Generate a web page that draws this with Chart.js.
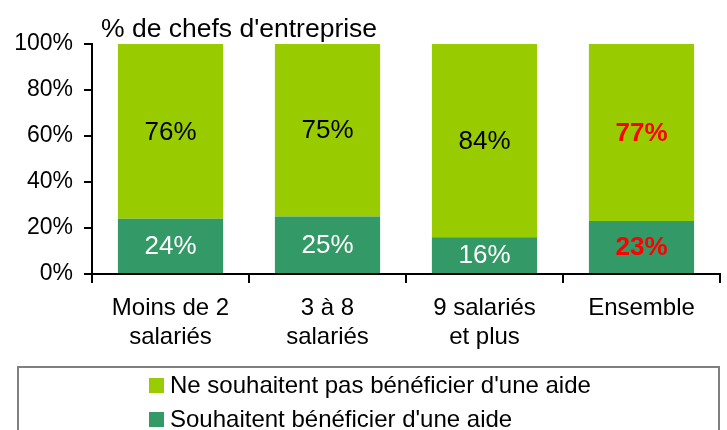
<!DOCTYPE html>
<html>
<head>
<meta charset="utf-8">
<script src="https://cdn.jsdelivr.net/npm/chart.js@4/dist/chart.umd.min.js"></script>
<style>
  html, body { margin: 0; padding: 0; background: #ffffff; }
  #wrap { width: 727px; height: 430px; }
</style>
</head>
<body>
<div id="wrap"><canvas id="c" width="727" height="430"></canvas></div>
<script>
// Categories (multi-line axis labels)
const categories = [['Moins de 2', 'salariés'], ['3 à 8', 'salariés'], ['9 salariés', 'et plus'], ['Ensemble']];
// Share of business owners who want support (%)
const souhaitent = [24, 25, 16, 23];
// Share of business owners who do not want support (%)
const neSouhaitentPas = [76, 75, 84, 77];
// Y axis ticks (%)
const yTicks = [0, 20, 40, 60, 80, 100];
const seriesNames = ["Souhaitent bénéficier d'une aide", "Ne souhaitent pas bénéficier d'une aide"];
const axisTitle = "% de chefs d'entreprise";

const FONT = "'Liberation Sans', Arial, Helvetica, sans-serif";
const DARK = '#339966';
const LIGHT = '#99CC00';
const totalIndex = categories.length - 1; // "Ensemble" column, labels in bold red

// Value labels centred inside each bar segment
const valueLabels = {
  id: 'valueLabels',
  afterDatasetsDraw(chart) {
    const ctx = chart.ctx;
    ctx.save();
    ctx.textAlign = 'center';
    ctx.textBaseline = 'middle';
    chart.data.datasets.forEach((ds, di) => {
      const meta = chart.getDatasetMeta(di);
      meta.data.forEach((bar, i) => {
        const isTotal = i === totalIndex;
        ctx.font = (isTotal ? 'bold ' : '') + '26px ' + FONT;
        ctx.fillStyle = isTotal ? '#FF0000' : (di === 0 ? '#FFFFFF' : '#000000');
        const cy = (bar.y + bar.base) / 2;
        ctx.fillText(ds.data[i] + '%', bar.x, cy + 1);
      });
    });
    ctx.restore();
  }
};

// Axis caption and the boxed legend at the bottom
const decorations = {
  id: 'decorations',
  afterDraw(chart) {
    const ctx = chart.ctx;
    ctx.save();
    ctx.fillStyle = '#000';
    ctx.font = '26.5px ' + FONT;
    ctx.textAlign = 'left';
    ctx.textBaseline = 'alphabetic';
    ctx.fillText(axisTitle, 101, 37);

    // legend frame
    ctx.strokeStyle = '#808080';
    ctx.lineWidth = 2;
    ctx.beginPath();
    ctx.moveTo(18, 440);
    ctx.lineTo(18, 367);
    ctx.lineTo(719, 367);
    ctx.lineTo(719, 440);
    ctx.stroke();

    // legend entries, top to bottom in reverse dataset order
    const items = chart.data.datasets.slice().reverse();
    ctx.font = '24px ' + FONT;
    ctx.textBaseline = 'middle';
    items.forEach((ds, k) => {
      const cy = 385.5 + k * 34;
      ctx.fillStyle = ds.backgroundColor;
      ctx.fillRect(149, cy - 7.5, 15, 15);
      ctx.fillStyle = '#000';
      ctx.fillText(ds.label, 170, cy + 1);
    });
    ctx.restore();
  }
};

new Chart(document.getElementById('c'), {
  type: 'bar',
  data: {
    labels: categories,
    datasets: [
      { label: seriesNames[0], data: souhaitent, backgroundColor: DARK, borderWidth: 0 },
      { label: seriesNames[1], data: neSouhaitentPas, backgroundColor: LIGHT, borderWidth: 0 }
    ]
  },
  options: {
    responsive: false,
    animation: false,
    devicePixelRatio: 1,
    layout: { padding: { top: 44, right: 7, left: 0, bottom: 0 } },
    categoryPercentage: 1,
    barPercentage: 0.67,
    plugins: {
      legend: { display: false },
      tooltip: { enabled: false },
      title: { display: false }
    },
    scales: {
      x: {
        stacked: true,
        offset: true,
        grid: { offset: true, drawOnChartArea: false, drawTicks: true, tickLength: 9, color: '#000', lineWidth: 2 },
        border: { color: '#000', width: 2 },
        ticks: { color: '#000', font: { family: FONT, size: 24 }, padding: 11, maxRotation: 0, autoSkip: false },
        afterFit(scale) { scale.height = 156; }
      },
      y: {
        stacked: true,
        min: yTicks[0],
        max: yTicks[yTicks.length - 1],
        afterBuildTicks(scale) { scale.ticks = yTicks.map(v => ({ value: v })); },
        grid: { drawOnChartArea: false, drawTicks: true, tickLength: 8, color: '#000', lineWidth: 2 },
        border: { color: '#000', width: 2 },
        ticks: { color: '#000', font: { family: FONT, size: 23 }, padding: 11, callback: v => v + '%' },
        afterFit(scale) { scale.width = 92; }
      }
    }
  },
  plugins: [valueLabels, decorations]
});
</script>
</body>
</html>
